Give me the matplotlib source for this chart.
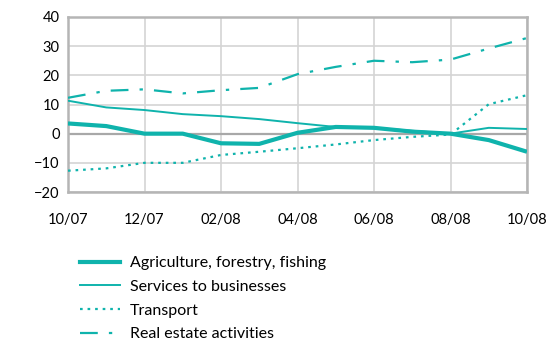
import matplotlib
matplotlib.use("Agg")
import matplotlib.pyplot as plt
from matplotlib.lines import Line2D

months = ["10/07", "11/07", "12/07", "01/08", "02/08", "03/08", "04/08",
          "05/08", "06/08", "07/08", "08/08", "09/08", "10/08"]
tick_labels = ["10/07", "12/07", "02/08", "04/08", "06/08", "08/08", "10/08"]

agriculture = [3.5, 2.6, 0.0, 0.0, -3.3, -3.5, 0.3, 2.3, 2.0, 0.7, 0.0, -2.2, -6.2]
services = [11.3, 9.0, 8.1, 6.7, 6.0, 5.0, 3.6, 2.3, 2.0, 1.0, 0.0, 2.0, 1.6]
transport = [-12.7, -11.9, -10.0, -10.0, -7.3, -6.2, -5.0, -3.7, -2.2, -1.1, -0.3, 10.1, 13.2]
real_estate = [12.3, 14.7, 15.2, 13.8, 14.9, 15.7, 20.4, 22.9, 25.0, 24.5, 25.4, 29.2, 32.8]

labels = ["Agriculture, forestry, fishing", "Services to businesses",
          "Transport", "Real estate activities"]

color = "#0FB3AC"
plt.rcParams['font.family'] = ['Lato', 'DejaVu Sans']

fig = plt.figure(figsize=(5.47, 3.44), dpi=100)
ax = fig.add_axes([68/547, 1-192/344, (527-68)/547, (192-17)/344])

x = list(range(len(months)))
ax.axhline(0, color="#a8a8a8", lw=1.6, zorder=1)
ax.plot(x, agriculture, color=color, lw=3.0, solid_capstyle="butt", zorder=3)
ax.plot(x, services, color=color, lw=1.4, zorder=3)
ax.plot(x, transport, color=color, lw=1.6, linestyle=(0, (1.2, 2.2)), zorder=3)
ax.plot(x, real_estate, color=color, lw=1.6,
        linestyle=(0, (8, 5, 1.5, 5)), zorder=3)

ax.set_xlim(0, 12)
ax.set_ylim(-20, 40)
ax.set_xticks(x[::2])
ax.set_xticklabels(tick_labels)
ax.set_yticks(range(-20, 41, 10))
ax.grid(True, color="#d4d4d4", lw=1.2, zorder=0)
ax.set_axisbelow(True)
for s in ax.spines.values():
    s.set_color("#b5b5b5")
    s.set_linewidth(1.8)
ax.tick_params(length=0, labelsize=10.5, colors="#000000")
ax.tick_params(axis="y", pad=6)
ax.tick_params(axis="x", pad=15)

handles = [Line2D([], [], color=color, lw=3.0),
           Line2D([], [], color=color, lw=1.4),
           Line2D([], [], color=color, lw=1.6, linestyle=(0, (1.2, 2.2))),
           Line2D([], [], color=color, lw=1.6, linestyle=(0, (8, 5, 1.5, 5)))]
fig.legend(handles, labels, loc="upper left", bbox_to_anchor=(80/547, 1-256/344),
           frameon=False, fontsize=11.5, handlelength=2.5, handletextpad=0.6,
           labelspacing=0.6, borderaxespad=0, borderpad=0)

fig.savefig("out.png", dpi=100)
